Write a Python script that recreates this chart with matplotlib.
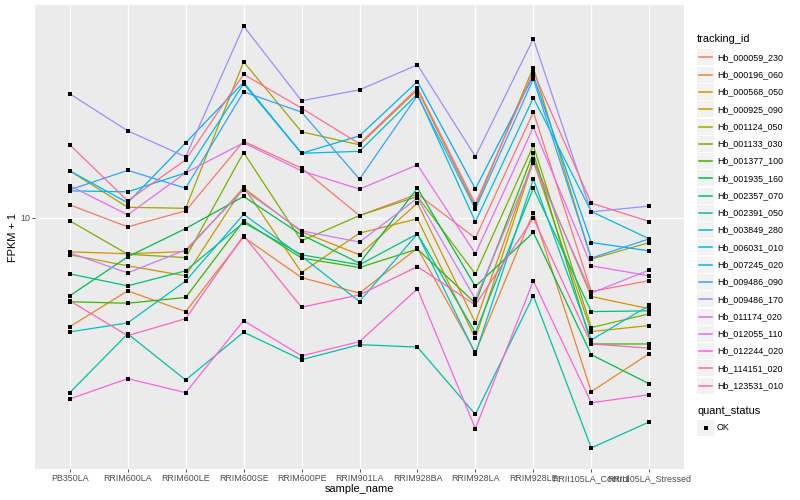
import numpy as np
import matplotlib.pyplot as plt
from matplotlib.lines import Line2D
from matplotlib.patches import Rectangle

plt.rcParams['font.family'] = ['Liberation Sans', 'DejaVu Sans']

samples = ['PB350LA', 'RRIM600LA', 'RRIM600LE', 'RRIM600SE', 'RRIM600PE',
           'RRIM901LA', 'RRIM928BA', 'RRIM928LA', 'RRIM928LE',
           'RRII105LA_Control', 'RRII105LA_Stressed']

tracking_ids = ['Hb_000059_230', 'Hb_000196_060', 'Hb_000568_050', 'Hb_000925_090',
                'Hb_001124_050', 'Hb_001133_030', 'Hb_001377_100', 'Hb_001935_160',
                'Hb_002357_070', 'Hb_002391_050', 'Hb_003849_280', 'Hb_006031_010',
                'Hb_007245_020', 'Hb_009486_090', 'Hb_009486_170', 'Hb_011174_020',
                'Hb_012055_110', 'Hb_012244_020', 'Hb_114151_020', 'Hb_123531_010']

# FPKM + 1, one list per gene, in sample order
hb_000059_230 = [11.12, 9.29, 10.59, 18.71, 15.02, 10.19, 12.14, 8.47, 23.76, 5.47, 5.98]
hb_000196_060 = [4.10, 5.50, 4.64, 8.54, 6.13, 5.40, 7.80, 3.32, 10.44, 2.41, 3.29]
hb_000568_050 = [7.57, 7.45, 7.59, 12.78, 8.92, 7.39, 11.28, 4.24, 16.17, 5.25, 4.75]
hb_000925_090 = [7.39, 6.75, 6.22, 12.89, 6.39, 8.82, 9.92, 3.73, 15.95, 3.94, 4.14]
hb_001124_050 = [14.69, 10.90, 10.81, 35.87, 20.22, 18.18, 28.52, 10.94, 34.24, 7.13, 8.17]
hb_001133_030 = [9.76, 7.42, 7.22, 17.07, 8.28, 10.19, 11.91, 6.31, 18.08, 4.07, 4.56]
hb_001377_100 = [5.03, 4.97, 5.21, 9.76, 7.19, 6.66, 7.74, 4.97, 16.99, 3.56, 3.56]
hb_001935_160 = [5.28, 7.27, 9.16, 11.91, 8.70, 6.90, 12.75, 5.70, 8.87, 3.26, 2.57]
hb_002357_070 = [6.32, 5.73, 6.48, 9.62, 7.39, 6.81, 8.77, 3.91, 12.75, 4.64, 4.67]
hb_002391_050 = [2.39, 3.87, 2.65, 3.92, 3.13, 3.54, 3.47, 2.00, 5.29, 1.52, 1.88]
hb_003849_280 = [3.93, 4.23, 5.96, 10.29, 7.30, 5.04, 8.77, 3.28, 13.76, 3.68, 4.88]
hb_006031_010 = [12.47, 12.37, 14.46, 29.96, 16.96, 17.24, 27.54, 9.68, 26.72, 10.53, 8.42]
hb_007245_020 = [14.69, 11.31, 18.48, 30.33, 16.96, 19.57, 30.53, 12.68, 31.99, 8.17, 7.63]
hb_009486_090 = [12.58, 14.75, 12.75, 28.06, 23.76, 13.73, 27.22, 10.76, 31.21, 7.19, 8.42]
hb_009486_170 = [27.60, 20.39, 16.48, 48.06, 26.07, 28.52, 35.00, 16.52, 43.31, 10.50, 11.01]
hb_011174_020 = [7.51, 6.37, 7.69, 12.58, 8.99, 8.20, 11.75, 5.14, 15.65, 5.40, 6.52]
hb_012055_110 = [13.00, 10.25, 14.46, 18.48, 14.69, 12.65, 15.43, 7.45, 21.02, 6.75, 6.22]
hb_012244_020 = [2.27, 2.68, 2.39, 4.31, 3.23, 3.63, 5.59, 1.78, 5.97, 2.20, 2.35]
hb_114151_020 = [5.07, 3.81, 4.38, 8.65, 4.81, 5.32, 6.71, 4.90, 9.98, 3.56, 3.44]
hb_123531_010 = [18.18, 11.49, 16.08, 32.38, 24.55, 18.33, 28.92, 11.21, 33.05, 11.28, 9.70]

series = [hb_000059_230, hb_000196_060, hb_000568_050, hb_000925_090, hb_001124_050,
          hb_001133_030, hb_001377_100, hb_001935_160, hb_002357_070, hb_002391_050,
          hb_003849_280, hb_006031_010, hb_007245_020, hb_009486_090, hb_009486_170,
          hb_011174_020, hb_012055_110, hb_012244_020, hb_114151_020, hb_123531_010]

colors = ['#F8766D', '#EA8331', '#D89000', '#C09B00', '#A3A500', '#7CAE00', '#39B600',
          '#00BB4E', '#00BF7D', '#00C1A3', '#00BFC4', '#00BAE0', '#00B0F6', '#35A2FF',
          '#9590FF', '#C77CFF', '#E76BF3', '#FA62DB', '#FF62BC', '#FF6C91']

W, H = 800, 500
fig = plt.figure(figsize=(8, 5), dpi=100)
ax = fig.add_axes([35 / W, 1 - 469 / H, (684 - 35) / W, (469 - 5) / H])
ax.set_facecolor('#EBEBEB')
for s in ax.spines.values():
    s.set_visible(False)

x = np.arange(1, len(samples) + 1)
for vals, c in zip(series, colors):
    ax.plot(x, vals, color=c, lw=0.9, zorder=2)
for vals in series:
    ax.plot(x, vals, 's', color='black', ms=2.6, mew=0, zorder=3)

ax.set_yscale('log')
allv = np.concatenate([np.array(v) for v in series])
lo, hi = np.log10(allv.min()), np.log10(allv.max())
pad = 0.05 * (hi - lo)
ax.set_ylim(10 ** (lo - pad), 10 ** (hi + pad))
ax.set_xlim(0.4, len(samples) + 0.6)
ax.set_yticks([10])
ax.set_yticklabels(['10'])
ax.yaxis.set_minor_locator(plt.NullLocator())
ax.set_xticks(x)
ax.set_xticklabels(samples)
ax.tick_params(axis='both', length=2.2, width=0.6, color='#333333',
               labelsize=6.4, labelcolor='#4D4D4D', pad=1.5)
ax.grid(True, color='white', lw=1.0)
ax.set_axisbelow(True)

fig.text(13 / W, 1 - 237 / H, 'FPKM + 1', rotation=90, ha='center', va='center', fontsize=7.9)
fig.text((35 + 684) / 2 / W, 1 - 489 / H, 'sample_name', ha='center', va='center', fontsize=7.9)

# legend: tracking_id
key_h = 17.28
fig.text(697 / W, 1 - 39 / H, 'tracking_id', ha='left', va='center', fontsize=7.9)
for i, (name, c) in enumerate(zip(tracking_ids, colors)):
    yc = 57.4 + key_h * i
    fig.add_artist(Rectangle((697 / W, 1 - (yc + 8.0) / H), 17 / W, 16.0 / H,
                             transform=fig.transFigure, facecolor='#F2F2F2', edgecolor='none'))
    fig.add_artist(Line2D([699 / W, 712 / W], [1 - yc / H, 1 - yc / H],
                          transform=fig.transFigure, color=c, lw=1.1))
    fig.text(717 / W, 1 - yc / H, name, ha='left', va='center', fontsize=6.4)

# legend: quant_status
fig.text(697 / W, 1 - 411 / H, 'quant_status', ha='left', va='center', fontsize=7.9)
yc = 428
fig.add_artist(Rectangle((697 / W, 1 - (yc + 8.0) / H), 17 / W, 16.0 / H,
                         transform=fig.transFigure, facecolor='#F2F2F2', edgecolor='none'))
fig.add_artist(Line2D([705.5 / W], [1 - yc / H], transform=fig.transFigure,
                      marker='s', color='black', ms=2.6, mew=0, ls='none'))
fig.text(717 / W, 1 - yc / H, 'OK', ha='left', va='center', fontsize=6.4)

fig.savefig('out.png', dpi=100)
